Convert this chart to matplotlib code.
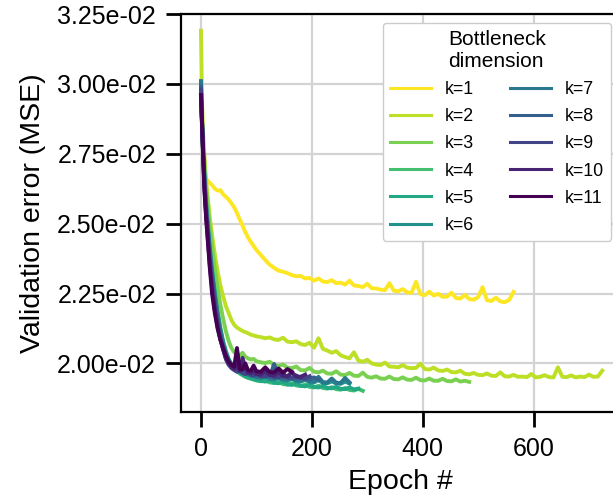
import numpy as np
import matplotlib
matplotlib.use("Agg")
import matplotlib.pyplot as plt
from matplotlib.ticker import FormatStrFormatter

plt.rcParams['font.family'] = ['Liberation Sans', 'DejaVu Sans']

# epochs at which the validation error was sampled (shared by all runs)
epochs = [0, 2, 4, 6, 8, 10, 13, 16, 20, 25, 30, 35, 40, 45, 50, 55, 60, 65, 70, 75,
          80, 85, 90, 95, 100] + list(range(108, 730, 8))

# validation MSE in units of 1e-4, one list per bottleneck dimension k
k1 = [298, 284, 274, 268.5, 266.5, 265.8, 265.2, 264.5, 263.8, 262.5, 261.8, 262, 260.5,
      259.6, 258.6, 257.3, 255.8, 253.8, 251.5, 249.3, 247, 245, 243.5, 242, 240.6,
      238.8, 237, 235.3, 234.2, 233.2, 232.8, 232.3, 231.6, 231.2, 231.3,
      230.4, 230.6, 229.6, 230.4, 229.3, 229.1, 229.8, 228.7, 228.9, 228.2,
      229.6, 227.9, 227.7, 227.3, 228.5, 226.9, 226.8, 226.4, 226.2, 228.7,
      226, 225.8, 226.6, 225.4, 225.3, 229.2, 224.8, 224.4, 225.7, 224.3,
      224.9, 223.8, 223.9, 225.3, 223.4, 223.2, 224.5, 223, 222.8, 223.7,
      227.3, 222.6, 222.3, 223.5, 222.2, 221.9, 222.7, 225.6]
k2 = [319, 293, 282, 275, 269, 264, 258, 252, 246, 239, 233, 228, 224, 220.5, 218,
      215.5, 213.8, 212.8, 212.2, 211.6, 211.2, 210.8, 210.3, 210, 209.7,
      209.4, 209.0, 209.3, 208.6, 208.4, 209.2, 207.8, 207.6, 207.9, 206.9,
      206.6, 207.4, 205.6, 209.0, 205.2, 204.6, 203.8, 204.4, 202.9, 202.3,
      201.8, 204.0, 201.0, 200.6, 201.3, 200.0, 199.6, 199.4, 200.3, 198.9,
      198.8, 198.6, 199.4, 198.5, 198.3, 198.4, 199.9, 198.0, 197.8, 198.5,
      197.5, 197.3, 197.8, 196.9, 196.8, 197.4, 196.3, 196.1, 196.6, 195.9,
      195.8, 196.4, 195.6, 195.5, 196.8, 195.4, 195.3, 195.9, 195.2, 195.3,
      195.1, 196.2, 195.0, 195.2, 195.8, 195.1, 195.0, 198.6, 195.2, 195.1,
      195.7, 195.0, 195.3, 195.1, 196.0, 195.2, 195.3, 197.4]
k3 = [297, 287, 279, 272, 266, 261, 255, 249, 242, 234, 227, 221, 216, 211.5, 208,
      205.5, 204, 203.2, 202.8, 203.8, 202.4, 201.8, 201.4, 201.6, 200.8,
      200.4, 200.1, 200.6, 199.4, 199.1, 199.6, 198.5, 198.3, 198.9, 197.6,
      197.5, 198.4, 197.0, 196.8, 197.4, 196.4, 196.3, 197.2, 196.0, 195.8,
      196.6, 195.6, 195.5, 196.7, 195.2, 194.9, 195.4, 194.6, 194.5, 195.3,
      194.4, 194.3, 195.0, 194.2, 194.1, 194.9, 194.0, 193.9, 194.6, 193.8,
      193.8, 194.5, 193.7, 193.6, 194.3, 193.5, 193.8, 193.4]
k4 = [297, 285, 276, 268, 261, 256, 249, 242, 234, 226, 219, 213, 208, 204.5, 201.5,
      199.5, 198.2, 197.2, 196.4, 195.8, 195.2, 194.8, 194.5, 194.2, 193.9,
      193.6, 193.9, 193.2, 193.0, 193.4, 192.6, 192.4, 192.9, 192.1, 191.9,
      192.4, 191.6, 191.4, 192.0, 191.2, 191.0, 191.5, 190.8, 190.6, 191.2,
      190.5, 190.3, 190.9, 190.2]
k5 = [296, 284, 275, 267, 260, 254, 247, 240, 232, 224, 217, 211.5, 207, 203.5, 201,
      199.3, 198.2, 197.3, 196.6, 196.0, 195.5, 195.1, 194.7, 194.4, 194.1,
      193.8, 193.5, 194.0, 193.1, 192.9, 193.4, 192.5, 192.3, 192.8, 192.0,
      191.8, 192.4, 191.6, 191.4, 192.0, 191.2, 191.1, 191.6, 190.9, 190.8,
      191.4, 190.7, 191.0]
k6 = [300, 286, 276, 268, 261, 255, 248, 241, 233, 225, 218, 212, 207.5, 204, 201.5,
      199.8, 198.7, 197.9, 197.3, 196.8, 196.3, 195.9, 195.6, 195.3, 195.0,
      194.7, 195.2, 194.4, 194.2, 194.8, 194.0, 193.8, 194.5, 193.6, 193.5,
      194.1, 193.3, 193.2, 194.0, 193.0, 192.9, 193.6, 192.8, 192.7, 193.5,
      192.8]
k7 = [301, 287, 276, 267, 260, 254, 247, 240, 232, 224, 217, 211.5, 207, 203.5, 201,
      199.5, 198.5, 197.8, 197.2, 196.8, 196.4, 196.0, 195.7, 195.5, 195.2,
      195.0, 195.8, 194.7, 194.5, 195.3, 194.3, 194.1, 195.0, 193.9, 193.8,
      194.6, 193.6, 193.5, 195.2, 193.3, 193.2, 194.6, 193.1, 193.0, 194.8,
      193.2]
k8 = [299, 286, 275, 266, 259, 253, 246, 239, 231, 223, 216, 210.5, 206, 202.5, 200.3,
      199, 198.2, 197.6, 197.2, 197.6, 196.6, 196.3, 196.8, 195.9, 195.7,
      195.5, 196.2, 195.2, 199.8, 195.0, 194.8, 195.6, 194.6, 194.5, 195.3,
      194.4, 194.3, 195.0, 194.2]
k9 = [298, 285, 274, 265, 258, 252, 245, 237, 229, 221, 214, 209, 205, 201.5, 199.5,
      198.3, 197.6, 197.0, 197.8, 196.5, 196.2, 197.0, 195.9, 195.7, 196.4,
      195.4, 195.3, 196.3, 195.1, 195.0, 196.5, 194.9, 194.8, 195.7, 194.7,
      194.6, 195.4]
k10 = [296, 285, 274, 264, 257, 251, 243, 235, 227, 219, 213, 208.5, 205, 201.8, 199.8,
       198.7, 198.0, 199.5, 197.2, 202.0, 198.3, 196.6, 196.5, 197.4, 196.2,
       196.0, 197.2, 195.8, 195.7, 196.9, 195.5, 195.4, 196.8, 195.3, 195.2,
       196.0]
k11 = [296, 286, 274, 263, 256, 250, 242, 234, 225, 218, 212.5, 208.5, 205.5, 202.8,
       200.6, 199.5, 198.8, 205.5, 198.0, 197.8, 200.0, 197.5, 197.4, 199.2, 197.2,
       197.0, 198.6, 196.9, 196.8, 198.2, 196.7, 198.0, 197.0]

runs = [k1, k2, k3, k4, k5, k6, k7, k8, k9, k10, k11]
labels = [f"k={i}" for i in range(1, 12)]

colors = plt.cm.viridis(np.linspace(1, 0, len(runs)))

fig = plt.figure(figsize=(6.13, 5.01), dpi=100)
ax = fig.add_axes([181 / 613, 1 - 411.5 / 501, (620 - 181) / 613, (411.5 - 14) / 501])

for vals, lab, col in zip(runs, labels, colors):
    x = epochs[:len(vals)]
    y = np.array(vals) * 1e-4
    ax.plot(x, y, color=col, lw=2.8, label=lab)

ax.set_xlim(-36, 756)
ax.set_ylim(0.01828, 0.0325)
ax.set_xticks([0, 200, 400, 600])
ax.set_yticks(np.arange(0.02, 0.03251, 0.0025))
ax.yaxis.set_major_formatter(FormatStrFormatter('%.2e'))

ax.grid(True, color='#d3d3d3', lw=1.6)
ax.set_axisbelow(True)
for s in ax.spines.values():
    s.set_linewidth(1.6)
    s.set_color('black')
ax.tick_params(axis='both', length=11, width=2, pad=7, labelsize=18, direction='out')

ax.set_xlabel("Epoch #", fontsize=20.5, labelpad=6)
ax.set_ylabel("Validation error (MSE)", fontsize=20.5, labelpad=8)

leg = ax.legend(title="Bottleneck\ndimension", ncol=2, loc='upper right',
                fontsize=12.8, title_fontsize=15, handlelength=2.3,
                labelspacing=0.57, columnspacing=2.0, framealpha=1,
                edgecolor='#cccccc')
for h in leg.get_lines():
    h.set_linewidth(2.2)

fig.savefig("out.png", dpi=100)
